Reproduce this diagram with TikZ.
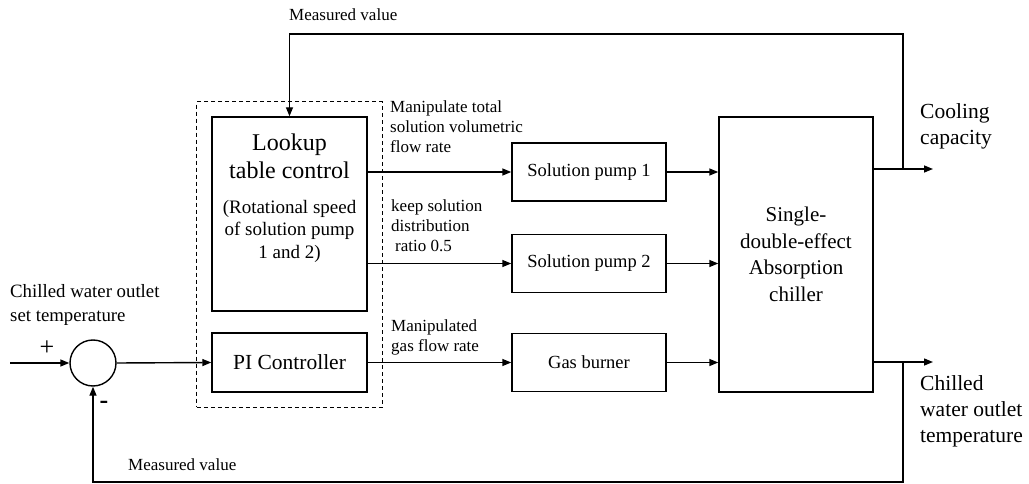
\documentclass[tikz,border=0pt]{standalone}
\usepackage{fontspec}
\setmainfont{Liberation Serif}
\usetikzlibrary{arrows.meta,fit}
\definecolor{blockline}{RGB}{0,0,0}
\definecolor{labeltext}{RGB}{0,0,0}
\tikzset{
  blockbox/.style={draw=blockline, line width=1.4pt, minimum width=154pt, minimum height=58pt, inner sep=0pt, align=center, font=\fontsize{18.5}{22}\selectfont},
  dashbox/.style={draw=blockline, line width=1.2pt, dash pattern=on 4pt off 3pt},
  flowarrow/.style={draw=blockline, line width=1.4pt, -{Triangle[length=9pt,width=7pt]}},
  smalllabel/.style={text=labeltext, inner sep=0pt, anchor=west, align=left, font=\fontsize{17}{20}\selectfont},
  inputlabel/.style={smalllabel, font=\fontsize{18.8}{24}\selectfont},
  outlabel/.style={smalllabel, font=\fontsize{21.5}{26}\selectfont},
  signlabel/.style={text=labeltext, inner sep=0pt, font=\fontsize{26}{28}\selectfont}
}

\begin{document}
\begin{tikzpicture}[x=1pt,y=-1pt]
\useasboundingbox (0,0) rectangle (1029,484);

% 1. CONTROLLER (dashed group)
\node[blockbox, minimum width=155pt, minimum height=194pt] (lut) at (289.5,214) {};
\node[inner sep=0pt, align=center, font=\fontsize{24}{28}\selectfont] (luthead) at (289.5,156) {Lookup\\table control};
\node[inner sep=0pt, align=center, font=\fontsize{19}{22.5}\selectfont] (lutnote) at (289.5,231) {(Rotational speed\\of solution pump\\1 and 2)};
\node[blockbox, minimum width=155pt, minimum height=59pt, font=\fontsize{21.5}{25}\selectfont] (pi) at (289.5,362.5) {PI Controller};
\node[dashbox, fit=(lut)(pi), inner sep=14.5pt] (ctrl) {};

% Summing junction
\node[draw=blockline, circle, line width=1.4pt, minimum size=46pt] (sum) at (93,363) {};

% 2. ACTUATORS
\node[blockbox] (pump1) at (589,172) {Solution pump 1};
\node[blockbox] (pump2) at (589,263.5) {Solution pump 2};
\node[blockbox] (burner) at (589,362.5) {Gas burner};

% 3. CHILLER
\node[blockbox, minimum height=275pt, font=\fontsize{21}{26.5}\selectfont] (chiller) at (796,254.5) {Single-\\double-effect\\Absorption\\chiller};

% Free ends and corners
\coordinate (setin) at (10,363);
\coordinate (coolout) at (933,169);
\coordinate (chwout) at (933,362);
\coordinate (tapcool) at (903,169);
\coordinate (tapchw) at (903,362);
\coordinate (topturn) at (289.5,34);
\coordinate (botturn) at (93,482);

% 4. SIGNALS
\draw[flowarrow] (setin) -- (sum.west);
\draw[flowarrow] (sum.east) -- (pi.west);
\draw[flowarrow] (pi.east) -- (burner.west);
\draw[flowarrow] (pump1 -| lut.east) -- (pump1.west);
\draw[flowarrow] (pump2 -| lut.east) -- (pump2.west);
\draw[flowarrow] (pump1.east) -- (pump1 -| chiller.west);
\draw[flowarrow] (pump2.east) -- (pump2 -| chiller.west);
\draw[flowarrow] (burner.east) -- (burner -| chiller.west);
\draw[flowarrow] (coolout -| chiller.east) -- (coolout);
\draw[flowarrow] (chwout -| chiller.east) -- (chwout);
% Feedback paths
\draw[flowarrow] (tapcool) |- (topturn) -- (lut.north);
\draw[flowarrow] (tapchw) |- (botturn) -- (sum.south);

% 5. LABELS
\node[smalllabel] (topmeas) at (289,15) {Measured value};
\node[smalllabel] (botmeas) at (128,465) {Measured value};
\node[smalllabel] (flowlbl) at (390,127) {Manipulate total\\solution volumetric\\flow rate};
\node[smalllabel] (ratiolbl) at (391,226) {keep solution\\distribution\\\hspace*{4pt}ratio 0.5};
\node[smalllabel] (gaslbl) at (391,337) {Manipulated\\gas flow rate};
\node[inputlabel] (setlbl) at (10,305) {Chilled water outlet\\set temperature};
\node[outlabel] (coollbl) at (920,126) {Cooling\\capacity};
\node[outlabel] (chwlbl) at (920,411) {Chilled\\water outlet\\temperature};
\node[signlabel] (plus) at (47,348) {+};
\node[signlabel] (minus) at (104,405) {\textbf{-}};

\end{tikzpicture}
\end{document}
